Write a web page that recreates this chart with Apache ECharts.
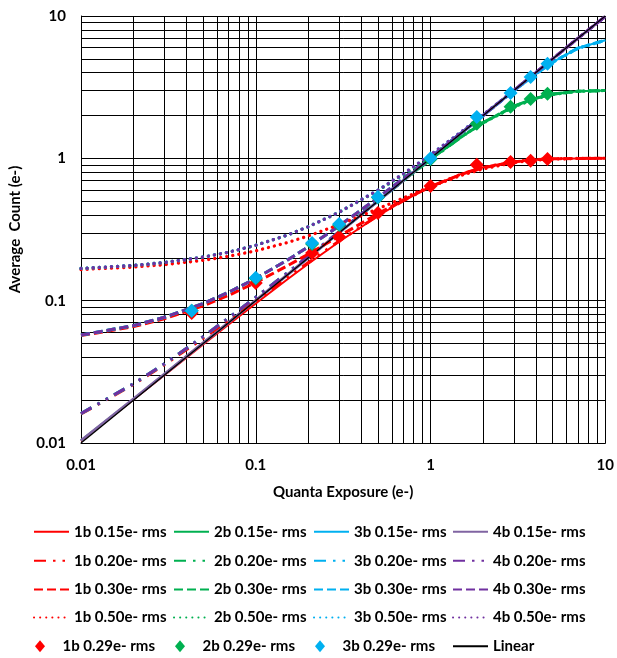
<!DOCTYPE html>
<html><head><meta charset="utf-8">
<script src="https://cdn.jsdelivr.net/npm/echarts@6/dist/echarts.min.js"></script>
<style>html,body{margin:0;padding:0;background:#fff}#c{width:617px;height:658px}</style>
</head><body><div id="c"></div>
<script>
// ---- data ----
const xs = [0.01,0.02,0.03,0.05,0.07,0.1,0.15,0.2,0.3,0.5,0.7,1,1.5,2,3,4,5,7,10];

const b1_015 = [0.0103,0.0202,0.0299,0.0492,0.068,0.0955,0.1396,0.1816,0.2594,0.3936,0.5035,0.6321,0.7768,0.8646,0.9502,0.9817,0.9933,0.9991,1.0];
const b2_015 = [0.0104,0.0204,0.0304,0.0504,0.0704,0.1004,0.1503,0.2003,0.3,0.4982,0.6936,0.977,1.41,1.782,2.328,2.652,2.828,2.962,2.997];
const b3_015 = [0.0104,0.0204,0.0304,0.0504,0.0704,0.1004,0.1503,0.2003,0.3003,0.5002,0.7002,1.0001,1.4998,1.9986,2.983,3.916,4.745,5.957,6.76];
const b4_015 = [0.0104,0.0204,0.0304,0.0504,0.0704,0.1004,0.1503,0.2003,0.3003,0.5002,0.7002,1.0001,1.5,2,3,4,5,7,9.93];

const b1_020 = [0.016,0.0258,0.0354,0.0544,0.073,0.1002,0.1438,0.1853,0.2624,0.3954,0.5043,0.6321,0.7762,0.8638,0.9496,0.9813,0.9931,0.9991,1.0];
const b2_020 = [0.0161,0.0261,0.036,0.0559,0.0758,0.1056,0.1553,0.2051,0.3043,0.5017,0.6963,0.9789,1.4106,1.7817,2.3269,2.6509,2.8272,2.9617,2.997];
const b3_020 = [0.0161,0.0261,0.036,0.0559,0.0758,0.1056,0.1553,0.2051,0.3046,0.5038,0.7031,1.0023,1.5012,1.9994,2.9832,3.9157,4.7444,5.9561,6.7594];
const b4_020 = [0.0161,0.0261,0.036,0.0559,0.0758,0.1056,0.1553,0.2051,0.3046,0.5038,0.7031,1.0023,1.5014,2.0008,3.0003,4.0001,5,7,9.93];

const b1_030 = [0.0568,0.0657,0.0746,0.092,0.1091,0.1341,0.1743,0.2126,0.284,0.408,0.5105,0.6321,0.7715,0.8582,0.9455,0.9791,0.992,0.9988,1.0];
const b2_030 = [0.0573,0.0669,0.0764,0.0955,0.1146,0.1433,0.1911,0.2391,0.335,0.5264,0.7158,0.9917,1.4147,1.7798,2.3197,2.6435,2.8216,2.9596,2.9966];
const b3_030 = [0.0573,0.0669,0.0764,0.0955,0.1146,0.1433,0.1911,0.2391,0.3354,0.529,0.7237,1.0176,1.5104,2.0049,2.9843,3.914,4.7403,5.9499,6.7557];
const b4_030 = [0.0573,0.0669,0.0764,0.0955,0.1146,0.1433,0.1911,0.2391,0.3354,0.529,0.7237,1.0176,1.5107,2.0065,3.0024,4.0009,5.0003,7,9.93];

const b1_050 = [0.1655,0.1722,0.179,0.192,0.205,0.224,0.255,0.285,0.3415,0.4416,0.527,0.632,0.759,0.843,0.934,0.973,0.989,0.9985,1.0];
const b2_050 = [0.1684,0.1768,0.1853,0.2022,0.2192,0.2448,0.2877,0.331,0.4177,0.593,0.7683,1.0261,1.4257,1.775,2.3004,2.6239,2.8068,2.9537,2.9958];
const b3_050 = [0.1684,0.1768,0.1853,0.2022,0.2192,0.2448,0.2877,0.331,0.4185,0.597,0.7795,1.0589,1.5354,2.0197,2.9875,3.9095,4.7295,5.9335,6.7457];
const b4_050 = [0.1684,0.1768,0.1853,0.2022,0.2192,0.2448,0.2877,0.331,0.4185,0.597,0.7795,1.0589,1.5357,2.0217,3.008,4.0029,5.0011,7.0001,9.93];

const markerX = [0.043,0.1,0.21,0.3,0.5,1,1.84,2.87,3.74,4.67];
const m1b_029 = [0.082,0.133,0.216,0.281,0.413,0.64,0.90,0.944,0.96,0.99];
const m2b_029 = [0.085,0.143,0.25,0.34,0.53,0.985,1.75,2.30,2.61,2.84];
const m3b_029 = [0.085,0.145,0.254,0.346,0.536,1.0,1.95,2.88,3.73,4.61];

const linearX = [0.01, 10];
const linearY = [0.01, 10];

const axisMin = 0.01, axisMax = 10;
const minorSteps = [2,3,4,5,6,7,8,9];
const decades = [0.01, 0.1, 1];

// ---- styling ----
const FONT = 'Lato';
const RED = '#FF0000', GREEN = '#00B050', CYAN = '#00B0F0', PURPLE = '#7030A0', PURPLE_L = '#8064A2';
const DASHDOT = [12, 7, 2.5, 7, 2.5, 7];
const DASH = [9, 4];
const DOT = [0.1, 6];

function pairs(xv, yv) { return xv.map((x, i) => [x, yv[i]]); }

const lineDefs = [
  ['1b 0.15e- rms', b1_015, RED,    'solid', 2],
  ['2b 0.15e- rms', b2_015, GREEN,  'solid', 2],
  ['3b 0.15e- rms', b3_015, CYAN,   'solid', 2],
  ['4b 0.15e- rms', b4_015, PURPLE_L,'solid', 3],
  ['1b 0.20e- rms', b1_020, RED,    DASHDOT, 3],
  ['2b 0.20e- rms', b2_020, GREEN,  DASHDOT, 3],
  ['3b 0.20e- rms', b3_020, CYAN,   DASHDOT, 3],
  ['4b 0.20e- rms', b4_020, PURPLE, DASHDOT, 3],
  ['1b 0.30e- rms', b1_030, RED,    DASH, 3],
  ['2b 0.30e- rms', b2_030, GREEN,  DASH, 3],
  ['3b 0.30e- rms', b3_030, CYAN,   DASH, 3],
  ['4b 0.30e- rms', b4_030, PURPLE, DASH, 3],
  ['1b 0.50e- rms', b1_050, RED,    DOT, 3.3],
  ['2b 0.50e- rms', b2_050, GREEN,  DOT, 3.3],
  ['3b 0.50e- rms', b3_050, CYAN,   DOT, 3.3],
  ['4b 0.50e- rms', b4_050, PURPLE, DOT, 3.3]
];

const series = [];
const minorX = [], minorY = [];
decades.forEach(d => minorSteps.forEach(s => { minorX.push({xAxis: +(d*s).toPrecision(3)}); minorY.push({yAxis: +(d*s).toPrecision(3)}); }));
series.push({
  type: 'line', name: '__grid', data: [], silent: true, z: 1,
  markLine: {
    silent: true, symbol: 'none', z: 1, animation: false,
    label: {show: false},
    lineStyle: {color: '#000', width: 1, type: 'solid'},
    emphasis: {disabled: true},
    data: minorX.concat(minorY)
  }
});

lineDefs.forEach(d => {
  series.push({
    type: 'line', name: d[0], data: pairs(xs, d[1]),
    symbol: 'none', smooth: false, z: 2,
    lineStyle: {color: d[2], type: d[3], width: d[4], cap: d[3] === DOT ? 'round' : 'butt'},
    itemStyle: {color: d[2]},
    emphasis: {disabled: true}
  });
});
series.push({type: 'line', name: 'Linear', data: pairs(linearX, linearY), symbol: 'none', z: 3,
  lineStyle: {color: '#000', width: 1.3}, itemStyle: {color: '#000'}, emphasis: {disabled: true}});
[['1b 0.29e- rms', m1b_029, RED], ['2b 0.29e- rms', m2b_029, GREEN], ['3b 0.29e- rms', m3b_029, CYAN]].forEach(d => {
  series.push({type: 'scatter', name: d[0], data: pairs(markerX, d[1]), symbol: 'diamond', symbolSize: 14, z: 4,
    itemStyle: {color: d[2], opacity: 1}, emphasis: {disabled: true}});
});

// legend layout: 5 rows x 4 columns
const legendGrid = [
  ['1b 0.15e- rms','2b 0.15e- rms','3b 0.15e- rms','4b 0.15e- rms'],
  ['1b 0.20e- rms','2b 0.20e- rms','3b 0.20e- rms','4b 0.20e- rms'],
  ['1b 0.30e- rms','2b 0.30e- rms','3b 0.30e- rms','4b 0.30e- rms'],
  ['1b 0.50e- rms','2b 0.50e- rms','3b 0.50e- rms','4b 0.50e- rms'],
  ['1b 0.29e- rms','2b 0.29e- rms','3b 0.29e- rms','Linear']
];
const colX = [33, 173, 313, 452];
const rowY = [533.3, 562.3, 591, 619, 647.7];
const diamondIcon = 'path://M0,0M7,1L12,7L7,13L2,7ZM14,14';
const legends = [];
legendGrid.forEach((row, r) => row.forEach((name, c) => {
  const item = {name: name};
  if (name.indexOf('0.29') >= 0) item.icon = diamondIcon;
  else item.itemStyle = {opacity: 0};
  legends.push({
    data: [item], left: colX[c], top: rowY[r] - 9, padding: 0,
    itemWidth: 35, itemHeight: 14, itemGap: 0, selectedMode: false,
    textStyle: {fontFamily: FONT, fontWeight: 'bold', fontSize: 15, color: '#000', padding: [0,0,0,0]}
  });
}));

const axisLabelStyle = {fontFamily: FONT, fontWeight: 'bold', fontSize: 15, color: '#000'};
const option = {
  animation: false,
  backgroundColor: '#fff',
  grid: {left: 81, top: 16, right: 10, bottom: 215},
  legend: legends,
  xAxis: {
    type: 'log', logBase: 10, min: axisMin, max: axisMax,
    name: 'Quanta Exposure (e-)', nameLocation: 'middle', nameGap: 42,
    nameTextStyle: axisLabelStyle,
    axisLine: {show: true, lineStyle: {color: '#000', width: 1}},
    axisTick: {show: false},
    axisLabel: Object.assign({margin: 15, formatter: v => String(v)}, axisLabelStyle),
    splitLine: {show: true, lineStyle: {color: '#000', width: 1}},
    minorTick: {show: false}, minorSplitLine: {show: false}
  },
  yAxis: {
    type: 'log', logBase: 10, min: axisMin, max: axisMax,
    name: 'Average  Count (e-)', nameLocation: 'middle', nameGap: 58, nameRotate: 90,
    nameTextStyle: axisLabelStyle,
    axisLine: {show: true, lineStyle: {color: '#000', width: 1}},
    axisTick: {show: false},
    axisLabel: Object.assign({margin: 15, formatter: v => String(v)}, axisLabelStyle),
    splitLine: {show: true, lineStyle: {color: '#000', width: 1}},
    minorTick: {show: false}, minorSplitLine: {show: false}
  },
  series: series
};
const chart = echarts.init(document.getElementById('c'), null, {renderer: 'canvas'});
chart.setOption(option);
</script>
</body></html>
